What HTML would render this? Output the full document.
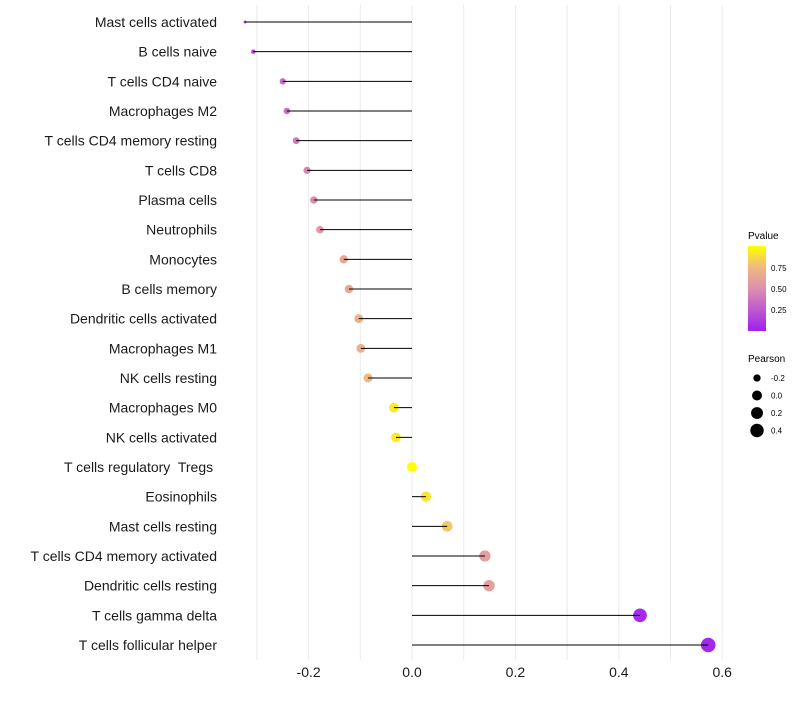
<!DOCTYPE html>
<html><head><meta charset="utf-8"><style>
body{margin:0;background:#fff;font-family:"Liberation Sans",sans-serif}
svg text{font-family:"Liberation Sans",sans-serif;white-space:pre}
</style></head><body>
<svg id="chart" width="800" height="700">
<defs><linearGradient id="pg" x1="0" y1="1" x2="0" y2="0">
<stop offset="0" stop-color="#a020f0"/><stop offset="0.5" stop-color="#dc90b0"/><stop offset="0.75" stop-color="#f0b880"/><stop offset="1" stop-color="#ffff00"/></linearGradient></defs>
<g id="grid"></g>
<g id="marks"></g>
<g id="ylabels"></g>
<g id="xlabels"></g>
<g>
<text x="748" y="239" font-size="10">Pvalue</text>
<rect x="748" y="246" width="18" height="85" fill="url(#pg)"/>
<text x="771" y="271" font-size="8">0.75</text>
<text x="771" y="292" font-size="8">0.50</text>
<text x="771" y="313" font-size="8">0.25</text>
</g>
<g id="sizeleg">
<text x="748" y="362" font-size="10">Pearson</text>
</g>
</svg>
<script>
const cats=["Mast cells activated","B cells naive","T cells CD4 naive","Macrophages M2","T cells CD4 memory resting","T cells CD8","Plasma cells","Neutrophils","Monocytes","B cells memory","Dendritic cells activated","Macrophages M1","NK cells resting","Macrophages M0","NK cells activated","T cells regulatory  Tregs ","Eosinophils","Mast cells resting","T cells CD4 memory activated","Dendritic cells resting","T cells gamma delta","T cells follicular helper"];
const pearson=[-0.323,-0.307,-0.25,-0.242,-0.224,-0.203,-0.19,-0.178,-0.132,-0.122,-0.103,-0.099,-0.085,-0.035,-0.031,0.0,0.027,0.068,0.141,0.149,0.441,0.573];
const pvalue=[0.15,0.2,0.35,0.35,0.4,0.45,0.5,0.55,0.65,0.66,0.7,0.7,0.75,0.92,0.92,1.0,0.9,0.8,0.6,0.6,0.05,0.03];
const xTicks=[-0.2,0,0.2,0.4,0.6];
const xTickLabels=["-0.2","0.0","0.2","0.4","0.6"];
const gridVals=[-0.3,-0.2,-0.1,0,0.1,0.2,0.3,0.4,0.5,0.6];
const legVals=[-0.2,0,0.2,0.4];
const legLabels=["-0.2","0.0","0.2","0.4"];
const NS="http://www.w3.org/2000/svg";
const X=v=>412+v*517;
const Y=i=>22+i*(623/21);
const pmin=Math.min(...pearson),pmax=Math.max(...pearson);
const R=v=>{const t=Math.max(0,Math.min(1,(v-pmin)/(pmax-pmin)));return 1.5+5.8*Math.sqrt(t);};
const stops=[[0,[160,32,240]],[0.5,[220,144,176]],[0.75,[240,184,128]],[1,[255,255,0]]];
function col(p){for(let i=1;i<stops.length;i++){if(p<=stops[i][0]){const a=stops[i-1],b=stops[i],t=(p-a[0])/(b[0]-a[0]);return "rgb("+a[1].map((c,k)=>Math.round(c+(b[1][k]-c)*t)).join(",")+")";}}return "rgb(255,255,0)";}
function mk(t,at,par){const e=document.createElementNS(NS,t);for(const k in at)e.setAttribute(k,at[k]);document.getElementById(par).appendChild(e);return e;}
gridVals.forEach(v=>{const e=mk("line",{x1:X(v),x2:X(v),y1:5,y2:660,stroke:"#ebebeb","stroke-width":1},"grid");

});
cats.forEach((c,i)=>{
const pt=mk("circle",{cx:X(pearson[i]),cy:Y(i),r:R(pearson[i]),fill:col(pvalue[i])},"marks");


const ln=mk("line",{x1:X(0),x2:X(pearson[i]),y1:Y(i),y2:Y(i),stroke:"#000","stroke-width":1},"marks");


const t=mk("text",{x:217,y:Y(i)+5,"text-anchor":"end","font-size":14,fill:"#1a1a1a","xml:space":"preserve"},"ylabels");t.textContent=c;


});
xTicks.forEach((v,i)=>{const t=mk("text",{x:X(v),y:677,"text-anchor":"middle","font-size":14,fill:"#1a1a1a"},"xlabels");t.textContent=xTickLabels[i];

});
legVals.forEach((v,i)=>{const cy=378+i*17.5;
const c=mk("circle",{cx:757,cy:cy,r:R(v),fill:"#000"},"sizeleg");


const t=mk("text",{x:771,y:cy+3,"font-size":8},"sizeleg");t.textContent=legLabels[i];

});
</script>
</body></html>
